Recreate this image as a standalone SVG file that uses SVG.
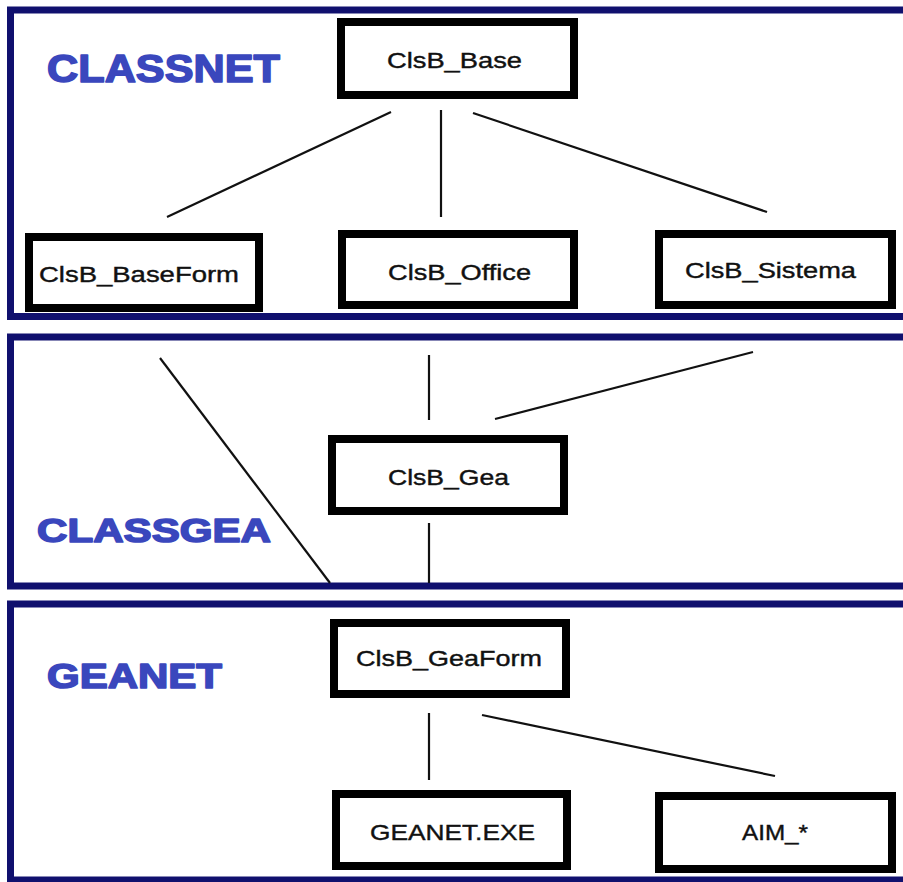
<svg xmlns="http://www.w3.org/2000/svg" width="903" height="882" viewBox="0 0 903 882">
<style>
.panel{fill:none;stroke:#10106e;stroke-width:7}
.box{fill:#fff;stroke:#000;stroke-width:8}
.lbl{font-family:"Liberation Sans",Arial,sans-serif;font-weight:bold;fill:#3a47bd;stroke:#3a47bd;stroke-width:1.6;stroke-linejoin:round}
.t{font-family:"Liberation Sans",Arial,sans-serif;font-size:22px;fill:#111;stroke:#111;stroke-width:0.4}
.c{stroke:#111;stroke-width:2.2;fill:none}
</style>
<rect width="903" height="882" fill="#fff"/>
<g id="panels">
<rect class="panel" x="10.5" y="10" width="900" height="306.5"/>
<rect class="panel" x="10.5" y="337" width="900" height="249"/>
<rect class="panel" x="10.5" y="604" width="900" height="276"/>
<text class="lbl" x="47" y="82" font-size="39" textLength="233" lengthAdjust="spacingAndGlyphs">CLASSNET</text>
<text class="lbl" x="37" y="542" font-size="34" textLength="234" lengthAdjust="spacingAndGlyphs">CLASSGEA</text>
<text class="lbl" x="47" y="688" font-size="35" textLength="175" lengthAdjust="spacingAndGlyphs">GEANET</text>
</g>
<g id="connectors">
<line class="c" x1="391" y1="112" x2="167" y2="217"/>
<line class="c" x1="441" y1="110" x2="441" y2="217"/>
<line class="c" x1="473" y1="113" x2="767" y2="212"/>
<line class="c" x1="160" y1="358" x2="330" y2="583"/>
<line class="c" x1="429" y1="355" x2="429" y2="420"/>
<line class="c" x1="429" y1="523" x2="429" y2="583"/>
<line class="c" x1="495" y1="419" x2="753" y2="352"/>
<line class="c" x1="429" y1="713" x2="429" y2="780"/>
<line class="c" x1="482" y1="715" x2="775" y2="776"/>
</g>
<g id="ClsB_Base"><rect class="box" x="341" y="22" width="233" height="73"/><text class="t" x="387" y="68" textLength="135" lengthAdjust="spacingAndGlyphs">ClsB_Base</text></g>
<g id="ClsB_BaseForm"><rect class="box" x="29" y="237" width="230" height="71"/><text class="t" x="39" y="282" textLength="200" lengthAdjust="spacingAndGlyphs">ClsB_BaseForm</text></g>
<g id="ClsB_Office"><rect class="box" x="342" y="234" width="232" height="71"/><text class="t" x="388" y="280" textLength="143" lengthAdjust="spacingAndGlyphs">ClsB_Office</text></g>
<g id="ClsB_Sistema"><rect class="box" x="659" y="234" width="233" height="71"/><text class="t" x="685" y="278" textLength="171" lengthAdjust="spacingAndGlyphs">ClsB_Sistema</text></g>
<g id="ClsB_Gea"><rect class="box" x="332" y="439" width="232" height="72"/><text class="t" x="388" y="485" textLength="121" lengthAdjust="spacingAndGlyphs">ClsB_Gea</text></g>
<g id="ClsB_GeaForm"><rect class="box" x="334" y="623" width="232" height="71"/><text class="t" x="356" y="666" textLength="186" lengthAdjust="spacingAndGlyphs">ClsB_GeaForm</text></g>
<g id="GEANET_EXE"><rect class="box" x="336" y="794" width="231" height="72"/><text class="t" x="370" y="840" textLength="165" lengthAdjust="spacingAndGlyphs">GEANET.EXE</text></g>
<g id="AIM"><rect class="box" x="659" y="796" width="233" height="73"/><text class="t" x="742" y="840" textLength="66" lengthAdjust="spacingAndGlyphs">AIM_*</text></g>
</svg>
